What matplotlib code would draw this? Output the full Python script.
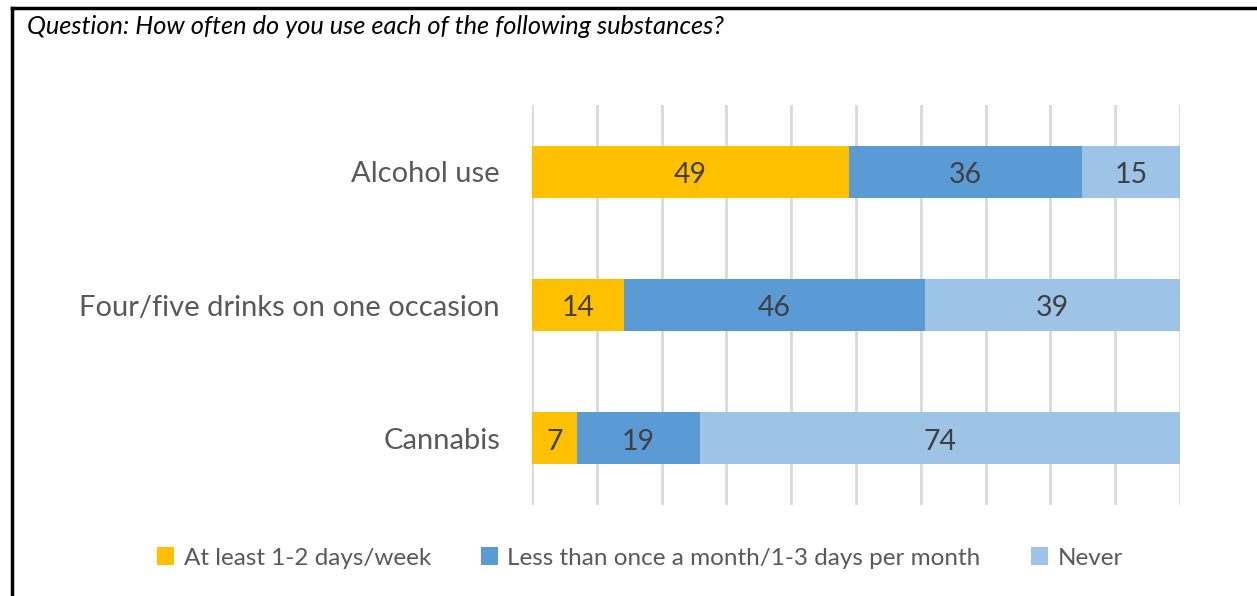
import matplotlib.pyplot as plt
import numpy as np
from matplotlib.lines import Line2D
from matplotlib.patches import Patch

# data
categories = ["Alcohol use", "Four/five drinks on one occasion", "Cannabis"]
series_names = ["At least 1-2 days/week",
                "Less than once a month/1-3 days per month",
                "Never"]
weekly = [48.9, 14.2, 6.9]
monthly = [36.0, 46.4, 19.0]
never = [15.1, 39.4, 74.1]
colors = ["#FFC000", "#5B9BD5", "#9DC3E6"]

plt.rcParams['font.family'] = ['Lato', 'DejaVu Sans']

fig = plt.figure(figsize=(12.57, 5.96), dpi=100)
ax = fig.add_axes([0.4232, 0.1527, 0.5155, 0.6711])

y = np.arange(len(categories))
left = np.zeros(len(categories))
for vals, c in zip([weekly, monthly, never], colors):
    vals = np.array(vals)
    bars = ax.barh(y, vals, left=left, height=0.39, color=c, zorder=3)
    for b, v in zip(bars, vals):
        ax.annotate(f"{v:.0f}",
                    (b.get_x() + b.get_width() / 2, b.get_y() + b.get_height() / 2),
                    xytext=(0, -2.5), textcoords='offset points',
                    ha='center', va='center', fontsize=20.5,
                    color='#404040', zorder=4)
    left += vals

ax.set_xlim(0, 100)
ax.set_ylim(2.5, -0.5)
ax.set_xticks(np.arange(0, 101, 10))
ax.xaxis.grid(True, color='#d9d9d9', linewidth=2)
ax.set_axisbelow(True)
ax.tick_params(axis='x', length=0, labelbottom=False)
ax.tick_params(axis='y', length=0, pad=23)
ax.set_yticks(y)
ax.set_yticklabels(categories, fontsize=21, color='#595959')
for s in ax.spines.values():
    s.set_visible(False)

# question text
fig.text(27 / 1257, 1 - 26 / 596,
         "Question: How often do you use each of the following substances?",
         fontsize=18.3, style='italic', color='black', va='center', ha='left')

# border lines
fig.add_artist(Line2D([12 / 1257, 12 / 1257], [0, 1 - 8 / 596],
                      transform=fig.transFigure, color='black', linewidth=2.5))
fig.add_artist(Line2D([12 / 1257, 1], [1 - 8 / 596, 1 - 8 / 596],
                      transform=fig.transFigure, color='black', linewidth=2.5))

handles = [Patch(facecolor=c, edgecolor='none') for c in colors]
leg = fig.legend(handles, series_names, loc='center', ncol=3,
                 bbox_to_anchor=(0.509, 1 - 558 / 596), frameon=False,
                 fontsize=17.5, handlelength=0.7, handleheight=0.7,
                 handletextpad=0.4, columnspacing=2.05)
for t in leg.get_texts():
    t.set_color('#595959')

fig.savefig("out.png", dpi=100)
